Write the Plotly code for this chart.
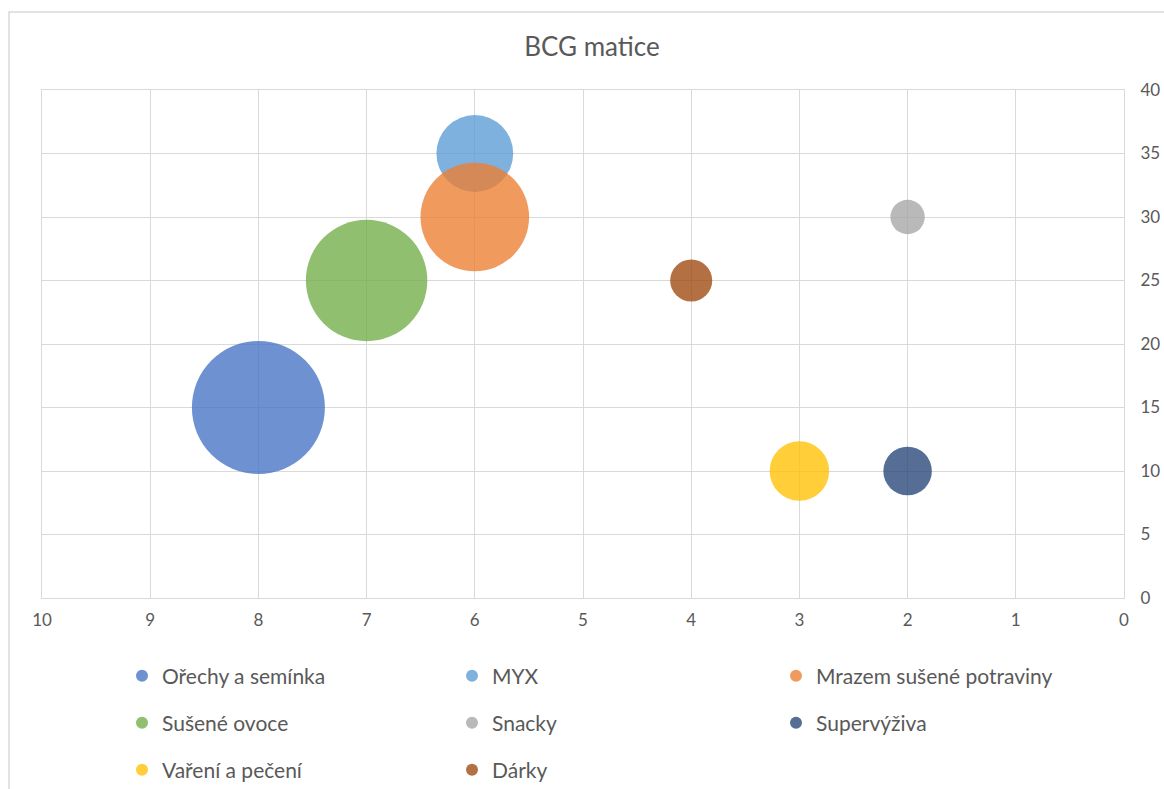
import plotly.graph_objects as go

# BCG matrix: relative market share (x, reversed) vs. market growth (y), bubble = sales volume
categories = [
    "Ořechy a semínka",
    "MYX",
    "Mrazem sušené potraviny",
    "Sušené ovoce",
    "Snacky",
    "Supervýživa",
    "Vaření a pečení",
    "Dárky",
]
share = [8, 6, 6, 7, 2, 2, 3, 4]
growth = [15, 35, 30, 25, 30, 10, 10, 25]
volume = [30, 10, 20, 25, 2, 4, 6, 3]
colors = ["#4472C4", "#5B9BD5", "#ED7D31", "#70AD47", "#A5A5A5", "#264478", "#FFC000", "#9E480E"]

x_ticks = list(range(0, 11))
y_ticks = list(range(0, 41, 5))

W, H = 1164, 789
L, R, T, B = 42, 40, 90, 191
pw, ph = W - L - R, H - T - B

FONT = "Lato, 'Open Sans', sans-serif"
TXT = "#595959"
GRID = "#D9D9D9"

# bubble scaling (area mode): largest bubble ~133 px across
max_diam = 133
sizeref = 2.0 * max(volume) / max_diam ** 2

# legend slots: three columns, three rows (px positions of the marker)
col_px = [142, 472, 796]
row_px = [676, 723, 770]

fig = go.Figure()
legend_layouts = {}
for i, name in enumerate(categories):
    lg = "legend" if i == 0 else f"legend{i + 1}"
    r, c = divmod(i, 3)
    fig.add_trace(go.Scatter(
        x=[share[i]], y=[growth[i]], mode="markers", name=name,
        marker=dict(size=[volume[i]], sizemode="area", sizeref=sizeref,
                    color=colors[i], opacity=0.78, line=dict(width=0)),
        legend=lg, hoverinfo="name+x+y",
    ))
    legend_layouts[lg] = dict(
        x=(col_px[c] - 20 - L) / pw, xanchor="left",
        y=(H - B - row_px[r]) / ph, yanchor="middle",
        bgcolor="rgba(0,0,0,0)", borderwidth=0,
        font=dict(family=FONT, size=21, color=TXT),
        itemsizing="constant", valign="middle",
    )

fig.update_layout(
    width=W, height=H,
    margin=dict(l=L, r=R, t=T, b=B, pad=0, autoexpand=False),
    paper_bgcolor="white", plot_bgcolor="white",
    title=dict(text="BCG matice", x=(592 - L) / pw, xref="paper", xanchor="center",
               y=1 - 47 / H, yanchor="middle",
               font=dict(family=FONT, size=26, color=TXT)),
    showlegend=True,
    xaxis=dict(range=[10, 0], tickvals=x_ticks, ticktext=[str(v) for v in x_ticks],
               showgrid=True, gridcolor=GRID, gridwidth=1, zeroline=False,
               showline=True, linecolor=GRID, linewidth=1, mirror=True,
               ticks="", ticklabelstandoff=7, automargin=False,
               tickfont=dict(family=FONT, size=17, color=TXT)),
    yaxis=dict(range=[0, 40], tickvals=y_ticks, side="right",
               showgrid=True, gridcolor=GRID, gridwidth=1, zeroline=False,
               showline=True, linecolor=GRID, linewidth=1, mirror=True,
               ticks="", ticklabelstandoff=12, automargin=False,
               tickfont=dict(family=FONT, size=17, color=TXT)),
    shapes=[dict(type="rect", xref="paper", yref="paper",
                 x0=(9 - L) / pw, x1=1.5, y0=-0.6, y1=(H - B - 12) / ph,
                 line=dict(color=GRID, width=1.5), fillcolor="rgba(0,0,0,0)", layer="below")],
    **legend_layouts,
)

fig.write_html("out.html")
